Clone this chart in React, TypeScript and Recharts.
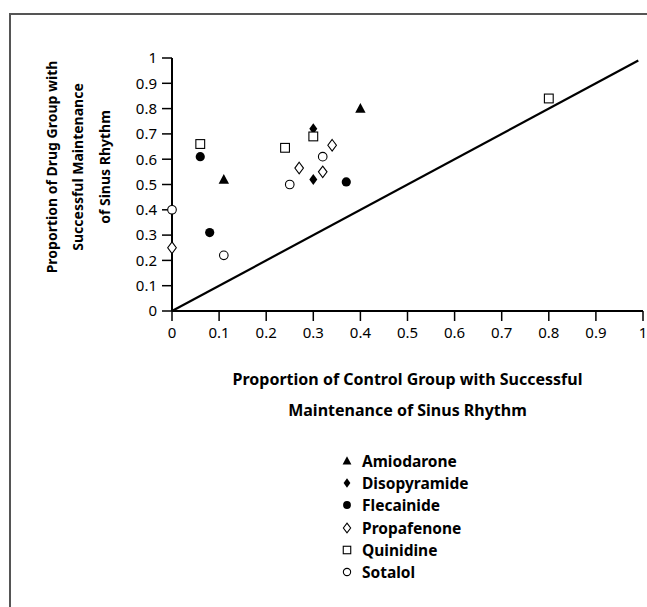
import { ScatterChart, Scatter, XAxis, YAxis, ReferenceLine, Legend } from 'recharts';

const amiodarone = [
  { x: 0.11, y: 0.52 },
  { x: 0.4, y: 0.8 },
];
const disopyramide = [
  { x: 0.3, y: 0.72 },
  { x: 0.3, y: 0.52 },
];
const flecainide = [
  { x: 0.06, y: 0.61 },
  { x: 0.08, y: 0.31 },
  { x: 0.37, y: 0.51 },
];
const propafenone = [
  { x: 0, y: 0.25 },
  { x: 0.27, y: 0.565 },
  { x: 0.32, y: 0.55 },
  { x: 0.34, y: 0.655 },
];
const quinidine = [
  { x: 0.06, y: 0.66 },
  { x: 0.24, y: 0.645 },
  { x: 0.3, y: 0.69 },
  { x: 0.8, y: 0.84 },
];
const sotalol = [
  { x: 0, y: 0.4 },
  { x: 0.11, y: 0.22 },
  { x: 0.25, y: 0.5 },
  { x: 0.32, y: 0.61 },
];
const diagonal = [
  { x: 0, y: 0 },
  { x: 0.99, y: 0.99 },
];
const axisTicks = [0, 0.1, 0.2, 0.3, 0.4, 0.5, 0.6, 0.7, 0.8, 0.9, 1];
const xTitle = ['Proportion of Control Group with Successful', 'Maintenance of Sinus Rhythm'];
const yTitle = ['Proportion of Drug Group with', 'Successful Maintenance', 'of Sinus Rhythm'];

const FONT = '"Noto Sans", sans-serif';

type MarkerKind = 'triangle' | 'diamondFilled' | 'circleFilled' | 'diamond' | 'square' | 'circle';

// draws one marker centred on (cx, cy); s scales it down for the legend
const marker = (kind: MarkerKind, cx: number, cy: number, s = 1) => {
  switch (kind) {
    case 'triangle':
      return (
        <polygon
          points={`${cx},${cy - 5.5 * s} ${cx - 5.2 * s},${cy + 4.2 * s} ${cx + 5.2 * s},${cy + 4.2 * s}`}
          fill="#000"
        />
      );
    case 'diamondFilled':
      return (
        <polygon
          points={`${cx},${cy - 5.5 * s} ${cx + 4 * s},${cy} ${cx},${cy + 5.5 * s} ${cx - 4 * s},${cy}`}
          fill="#000"
        />
      );
    case 'circleFilled':
      return <circle cx={cx} cy={cy} r={4.6 * s} fill="#000" />;
    case 'diamond':
      return (
        <polygon
          points={`${cx},${cy - 5.8 * s} ${cx + 4.3 * s},${cy} ${cx},${cy + 5.8 * s} ${cx - 4.3 * s},${cy}`}
          fill="#fff"
          stroke="#000"
          strokeWidth={1.1}
        />
      );
    case 'square':
      return (
        <rect x={cx - 4.4 * s} y={cy - 4.4 * s} width={8.8 * s} height={8.8 * s} fill="#fff" stroke="#000" strokeWidth={1.1} />
      );
    default:
      return <circle cx={cx} cy={cy} r={4.3 * s} fill="#fff" stroke="#000" strokeWidth={1.1} />;
  }
};

const series: { name: string; data: { x: number; y: number }[]; kind: MarkerKind }[] = [
  { name: 'Amiodarone', data: amiodarone, kind: 'triangle' },
  { name: 'Disopyramide', data: disopyramide, kind: 'diamondFilled' },
  { name: 'Flecainide', data: flecainide, kind: 'circleFilled' },
  { name: 'Propafenone', data: propafenone, kind: 'diamond' },
  { name: 'Quinidine', data: quinidine, kind: 'square' },
  { name: 'Sotalol', data: sotalol, kind: 'circle' },
];

const renderLegend = () => (
  <div style={{ fontFamily: FONT, fontWeight: 700, fontSize: 15.5, color: '#000' }}>
    {series.map((s) => (
      <div key={s.name} style={{ display: 'flex', alignItems: 'center', height: 22.3 }}>
        <svg width={12} height={12} style={{ marginRight: 9 }}>
          {marker(s.kind, 6, 6, 0.85)}
        </svg>
        <span>{s.name}</span>
      </div>
    ))}
  </div>
);

const XTitle = (props: any) => {
  const { x, y, width } = props.viewBox;
  const cx = x + width / 2;
  return (
    <g>
      {xTitle.map((line, i) => (
        <text key={line} x={cx} y={y + 68 + i * 31} dy="0.35em" textAnchor="middle" fontFamily={FONT} fontWeight={700} fontSize={16} fill="#000">
          {line}
        </text>
      ))}
    </g>
  );
};

const YTitle = () => {
  const cy = 167;
  return (
    <g>
      {yTitle.map((line, i) => {
        const cx = 52 + i * 26.5;
        return (
          <text key={line} x={cx} y={cy} dy="0.35em" textAnchor="middle" transform={`rotate(-90, ${cx}, ${cy})`} fontFamily={FONT} fontWeight={700} fontSize={14} fill="#000">
            {line}
          </text>
        );
      })}
    </g>
  );
};

export default function App() {
  return (
    <div style={{ position: 'relative', width: 647, height: 607, overflow: 'hidden', background: '#fff' }}>
      <style>{'body { margin: 0; }'}</style>
      <div
        style={{
          position: 'absolute',
          left: 9,
          top: 13,
          width: 700,
          height: 700,
          borderTop: '2px solid #555',
          borderLeft: '2px solid #555',
        }}
      />
      <ScatterChart width={647} height={607} margin={{ top: 58, right: 4, left: 0, bottom: 266 }} style={{ position: 'absolute', left: 0, top: 0 }}>
        <XAxis
          type="number"
          dataKey="x"
          domain={[0, 1]}
          ticks={axisTicks}
          interval={0}
          height={30}
          axisLine={{ stroke: '#000', strokeWidth: 2 }}
          tickLine={{ stroke: '#000', strokeWidth: 1.5 }}
          tickSize={10}
          tickMargin={6}
          tick={{ fill: '#000', fontSize: 15, fontFamily: FONT }}
          label={{ content: XTitle }}
        />
        <YAxis
          type="number"
          dataKey="y"
          domain={[0, 1]}
          ticks={axisTicks}
          interval={0}
          width={172}
          axisLine={{ stroke: '#000', strokeWidth: 2 }}
          tickLine={{ stroke: '#000', strokeWidth: 1.5 }}
          tickSize={10}
          tickMargin={5}
          tick={{ fill: '#000', fontSize: 15, fontFamily: FONT }}
          label={{ content: YTitle }}
        />
        <ReferenceLine segment={diagonal} stroke="#000" strokeWidth={2.2} ifOverflow="visible" />
        {series.map((s) => (
          <Scatter
            key={s.name}
            name={s.name}
            data={s.data}
            isAnimationActive={false}
            shape={(p: any) => marker(s.kind, p.cx, p.cy)}
          />
        ))}
        <Legend
          layout="vertical"
          align="center"
          verticalAlign="middle"
          content={renderLegend}
          wrapperStyle={{ left: 341, top: 449.5, width: 200, bottom: 'auto', right: 'auto' }}
        />
      </ScatterChart>
    </div>
  );
}
